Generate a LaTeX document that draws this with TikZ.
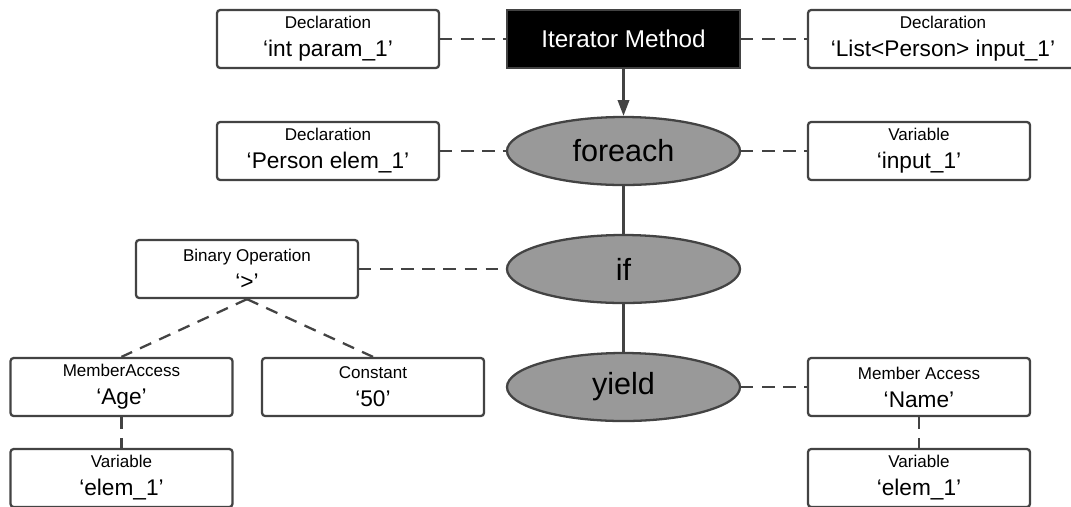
\documentclass[tikz,border=0pt]{standalone}
\usepackage{fontspec}
\setmainfont{Liberation Sans}
\usetikzlibrary{shapes.geometric, arrows.meta}
\usetikzlibrary{positioning}
\definecolor{edgegray}{RGB}{67,67,67}
\definecolor{stmtgray}{RGB}{153,153,153}
\newcommand{\kindtxt}{\fontsize{9.7}{11}\selectfont}
\tikzset{
astbox/.style={
	rectangle,
	rounded corners=1.8pt,
	minimum width=4.44cm,
	minimum height=1.16cm,
	text centered,
	align=center,
	draw=edgegray,
	line width=1.3pt,
	fill=white,
	inner sep=0pt,
	font=\fontsize{12.9}{16}\selectfont
},
stmt/.style={
	ellipse,
	minimum width=4.66cm,
	minimum height=1.36cm,
	draw=edgegray,
	line width=1.3pt,
	fill=stmtgray,
	inner sep=0pt,
	font=\fontsize{17.4}{20}\selectfont
},
rootbox/.style={
	rectangle,
	minimum width=4.66cm,
	minimum height=1.16cm,
	draw=edgegray,
	line width=1.3pt,
	fill=black,
	text=white,
	font=\fontsize{13.8}{16}\selectfont
},
flow/.style={
	draw=edgegray,
	line width=1.3pt
},
link/.style={
	draw=edgegray,
	line width=1.3pt,
	dash pattern=on 7pt off 5pt
}
}

\begin{document}
\begin{tikzpicture}[node distance=2.36cm]

\useasboundingbox (0,0) rectangle (21.42,-10.12);

\node (iter) [rootbox] at (12.47,-0.78) {Iterator Method};
\node (parm) [astbox, left of=iter, xshift=-3.55cm] {{\kindtxt Declaration}\\‘int param\_1’};
\node (inlist) [astbox, right of=iter, xshift=4.03cm, minimum width=5.4cm] {{\kindtxt Declaration}\\‘List<Person> input\_1’};

\node (fe)  [stmt, below of=iter, yshift=0.12cm] {foreach};
\node (ifn) [stmt, below of=fe] {if};
\node (yld) [stmt, below of=ifn] {yield};

\node (elem)   [astbox, left of=fe, xshift=-3.55cm] {{\kindtxt Declaration}\\‘Person elem\_1’};
\node (inpvar) [astbox, right of=fe, xshift=3.55cm] {{\kindtxt Variable}\\‘input\_1’};

\node (binop) [astbox, left of=ifn, xshift=-5.17cm] {{\kindtxt Binary Operation}\\‘>’};
\node (age)   [astbox, below of=binop, xshift=-2.51cm] {{\kindtxt MemberAccess}\\‘Age’};
\node (const) [astbox, below of=binop, xshift=2.52cm] {{\kindtxt Constant}\\‘50’};
\node (varL)  [astbox, node distance=1.82cm, below of=age] {{\kindtxt Variable}\\‘elem\_1’};

\node (name) [astbox, right of=yld, xshift=3.55cm] {{\kindtxt Member Access}\\‘Name’};
\node (varR) [astbox, node distance=1.82cm, below of=name] {{\kindtxt Variable}\\‘elem\_1’};

\draw [flow, -{Triangle[length=9pt,width=6.5pt]}] (iter.south) -- (fe.north);
\draw [flow] (fe.south) -- (ifn.north);
\draw [flow] (ifn.south) -- (yld.north);

\draw [link] (parm.east) -- (iter.west);
\draw [link] (iter.east) -- (inlist.west);
\draw [link] (elem.east) -- (fe.west);
\draw [link] (fe.east) -- (inpvar.west);
\draw [link] (binop.east) -- (ifn.west);
\draw [link] (binop.south) -- (age.north);
\draw [link] (binop.south) -- (const.north);
\draw [link] (age.south) -- (varL.north);
\draw [link] (yld.east) -- (name.west);
\draw [link] (name.south) -- (varR.north);

\end{tikzpicture}
\end{document}
